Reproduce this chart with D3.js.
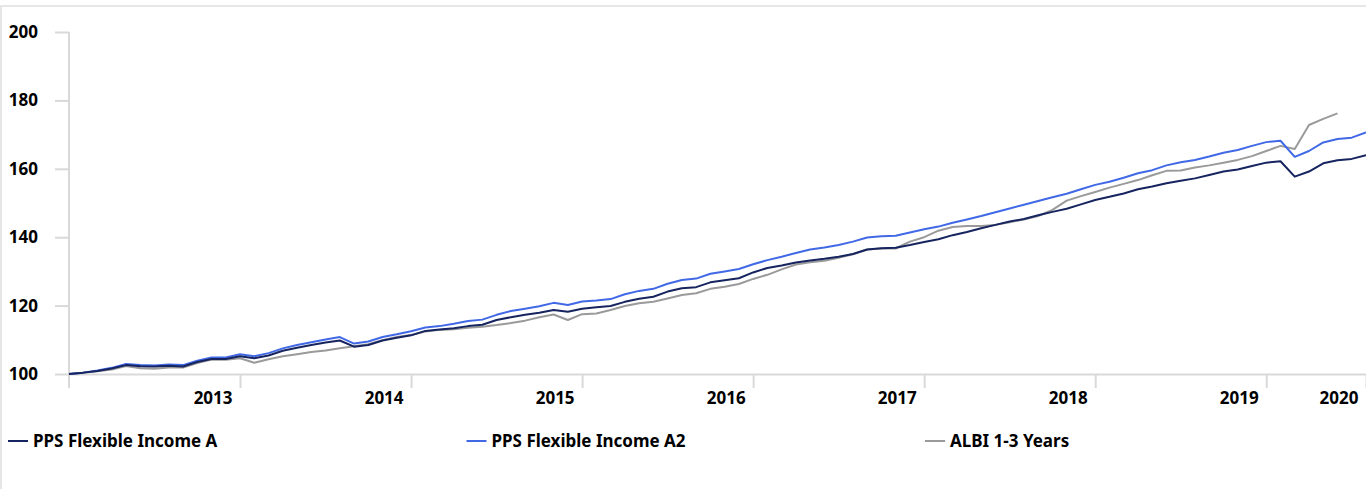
<!DOCTYPE html>
<html>
<head>
<meta charset="utf-8">
<script src="https://cdn.jsdelivr.net/npm/d3@7"></script>
<style>
  html, body { margin: 0; padding: 0; background: #fff; overflow: hidden; }
  svg { display: block; font-family: "Noto Sans", "Open Sans", sans-serif; }
</style>
</head>
<body>
<svg></svg>
<script>
// Fixed inputs
const svgWidth = 1366;
const svgHeight = 489;

// Chart data: monthly index values, rebased to 100
const seriesNames = ["PPS Flexible Income A", "PPS Flexible Income A2", "ALBI 1-3 Years"];
const seriesColors = ["#16245f", "#4169e6", "#9a9a9a"];

const incomeA = [
  100.0, 100.4, 100.9, 101.6, 102.6, 102.3, 102.2, 102.4, 102.2, 103.5, 104.4, 104.4,
  105.2, 104.6, 105.4, 106.8, 107.7, 108.5, 109.2, 109.8, 108.0, 108.5, 109.8, 110.6,
  111.3, 112.6, 113.0, 113.4, 114.0, 114.4, 115.8, 116.6, 117.3, 117.9, 118.7, 118.2,
  119.1, 119.5, 119.9, 121.1, 122.0, 122.6, 124.1, 125.1, 125.4, 126.8, 127.4, 128.0,
  129.7, 131.0, 131.7, 132.6, 133.2, 133.7, 134.3, 135.1, 136.4, 136.8, 136.9, 137.7,
  138.6, 139.4, 140.6, 141.5, 142.6, 143.6, 144.6, 145.3, 146.4, 147.4, 148.3, 149.6,
  150.9, 151.8, 152.8, 154.0, 154.8, 155.8, 156.5, 157.2, 158.2, 159.2, 159.8, 160.8,
  161.8, 162.2, 157.7, 159.2, 161.6, 162.5, 162.9, 164.0
];

const incomeA2 = [
  100.0, 100.4, 101.0, 101.8, 102.9, 102.6, 102.5, 102.8, 102.6, 103.9, 104.8, 104.8,
  105.8, 105.2, 106.1, 107.5, 108.5, 109.3, 110.1, 110.8, 108.9, 109.5, 110.8, 111.6,
  112.5, 113.6, 114.0, 114.7, 115.5, 115.9, 117.3, 118.4, 119.1, 119.8, 120.8, 120.2,
  121.2, 121.5, 121.9, 123.3, 124.3, 124.9, 126.4, 127.5, 127.9, 129.3, 130.0, 130.7,
  132.1, 133.3, 134.3, 135.4, 136.4, 137.0, 137.7, 138.7, 139.9, 140.3, 140.4, 141.4,
  142.3, 143.1, 144.2, 145.2, 146.2, 147.3, 148.4, 149.5, 150.6, 151.7, 152.7, 154.0,
  155.3, 156.2, 157.4, 158.7, 159.6, 161.0, 161.9, 162.6, 163.6, 164.7, 165.5, 166.7,
  167.8, 168.2, 163.5, 165.2, 167.7, 168.7, 169.1, 170.6
];

const albi13 = [
  100.0, 100.4, 100.8, 101.3, 102.3, 101.7, 101.5, 101.9, 101.9, 103.2, 104.2, 104.2,
  104.6, 103.3, 104.3, 105.2, 105.8, 106.4, 106.9, 107.5, 108.1, 108.7, 109.9, 110.8,
  111.4, 112.4, 112.9, 113.1, 113.5, 113.8, 114.3, 114.9, 115.6, 116.6, 117.4, 115.8,
  117.5, 117.7, 118.7, 119.9, 120.7, 121.1, 122.1, 123.1, 123.6, 124.9, 125.5, 126.3,
  127.8, 129.0, 130.6, 132.0, 132.7, 133.1, 134.0, 135.0, 136.4, 136.7, 136.7, 138.7,
  140.0, 141.9, 143.0, 143.3, 143.3, 143.6, 144.4, 145.2, 146.2, 148.0, 150.7, 152.0,
  153.2, 154.5, 155.6, 156.7, 158.1, 159.4, 159.5, 160.4, 161.0, 161.8, 162.6, 163.7,
  165.2, 166.7, 165.8, 172.8, 174.6, 176.2
];

// Axis ticks
const yTicks = [100, 120, 140, 160, 180, 200];
const xTickMonths = [12, 24, 36, 48, 60, 72, 84, 91];
const xTickLabels = ["2013", "2014", "2015", "2016", "2017", "2018", "2019", "2020"];

// Layout
const plotLeft = 69, plotRight = 1366, plotTop = 32, plotBottom = 374;
const gridColor = "#d9d9d9";
const labelFont = "17px";

const svg = d3.select("svg")
    .attr("width", svgWidth)
    .attr("height", svgHeight);

// Outer frame (top and left edges visible)
svg.append("rect")
    .attr("x", 1).attr("y", 6)
    .attr("width", svgWidth + 10).attr("height", svgHeight + 10)
    .attr("fill", "none")
    .attr("stroke", "#e6e6e6")
    .attr("stroke-width", 2);

const x = d3.scaleLinear().domain([0, 91]).range([plotLeft, plotRight]);
const y = d3.scaleLinear().domain([100, 200]).range([plotBottom, plotTop]);

// Y axis
const yAxis = svg.append("g")
    .attr("transform", `translate(${plotLeft},0)`)
    .call(d3.axisLeft(y).tickValues(yTicks).tickSize(14).tickSizeOuter(0).tickPadding(17));
yAxis.select(".domain").remove();
yAxis.selectAll(".tick line").attr("stroke", gridColor).attr("stroke-width", 2);
yAxis.selectAll(".tick text")
    .attr("fill", "#000")
    .attr("font-size", labelFont)
    .attr("font-weight", "bold")
    .attr("font-family", "Noto Sans");

// vertical axis line, reaching slightly below the baseline
svg.append("line")
    .attr("x1", plotLeft).attr("x2", plotLeft)
    .attr("y1", plotTop).attr("y2", plotBottom + 14)
    .attr("stroke", gridColor).attr("stroke-width", 2);

// X axis
const xAxis = svg.append("g")
    .attr("transform", `translate(0,${plotBottom})`)
    .call(d3.axisBottom(x)
        .tickValues(xTickMonths)
        .tickFormat((d, i) => xTickLabels[i])
        .tickSize(14)
        .tickSizeOuter(0));
xAxis.select(".domain").attr("stroke", gridColor).attr("stroke-width", 2);
xAxis.selectAll(".tick line").attr("stroke", gridColor).attr("stroke-width", 2);
xAxis.selectAll(".tick text")
    .attr("fill", "#000")
    .attr("font-size", labelFont)
    .attr("font-weight", "bold")
    .attr("font-family", "Noto Sans")
    .attr("text-anchor", "end")
    .attr("x", -8)
    .attr("y", 30)
    .attr("dy", 0);

// Lines
const line = d3.line()
    .x((d, i) => x(i))
    .y(d => y(d));

const drawOrder = [
    { values: albi13, color: seriesColors[2] },
    { values: incomeA2, color: seriesColors[1] },
    { values: incomeA, color: seriesColors[0] }
];

drawOrder.forEach(s => {
    svg.append("path")
        .datum(s.values)
        .attr("d", line)
        .attr("fill", "none")
        .attr("stroke", s.color)
        .attr("stroke-width", 2)
        .attr("stroke-linejoin", "round");
});

// Legend
const legendY = 441;
const legend = svg.append("g");
seriesNames.forEach((name, i) => {
    const lx = 8 + i * 458.5;
    legend.append("line")
        .attr("x1", lx).attr("x2", lx + 20)
        .attr("y1", legendY).attr("y2", legendY)
        .attr("stroke", seriesColors[i])
        .attr("stroke-width", 2);
    legend.append("text")
        .attr("x", lx + 25)
        .attr("y", legendY + 6)
        .attr("font-size", labelFont)
        .attr("font-weight", "bold")
        .attr("font-family", "Noto Sans")
        .attr("fill", "#000")
        .text(name);
});
</script>
</body>
</html>
